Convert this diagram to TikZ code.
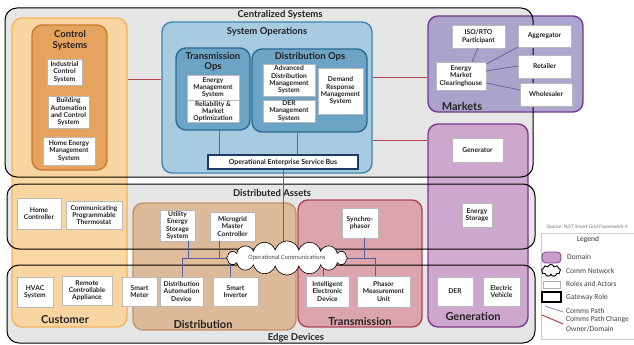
\documentclass[tikz,border=0pt]{standalone}
\usepackage{fontspec}
\setmainfont{Lato}
\newfontfamily\legfont{Carlito}
\usetikzlibrary{shapes.symbols}
\definecolor{bandfill}{HTML}{E6E6E6}
\definecolor{custfill}{HTML}{FBD49A}
\definecolor{custdraw}{HTML}{F2B35C}
\definecolor{ctrlfill}{HTML}{E6A35E}
\definecolor{ctrldraw}{HTML}{C77A30}
\definecolor{sysfill}{HTML}{A7CBE0}
\definecolor{sysdraw}{HTML}{3F86B0}
\definecolor{opsfill}{HTML}{6DA4C6}
\definecolor{opsdraw}{HTML}{2B6A93}
\definecolor{distfill}{HTML}{DDB691}
\definecolor{distdraw}{HTML}{C4926A}
\definecolor{trnfill}{HTML}{DC9DA6}
\definecolor{trndraw}{HTML}{B04557}
\definecolor{mktfill}{HTML}{A69CCB}
\definecolor{mktdraw}{HTML}{74398C}
\definecolor{genfill}{HTML}{C99DCA}
\definecolor{gendraw}{HTML}{7C3A8C}
\definecolor{redline}{HTML}{B44646}
\definecolor{blueline}{HTML}{55609E}
\definecolor{navy}{HTML}{1F3A66}
\definecolor{txt}{HTML}{222222}
\newcommand\wb[7][]{\node[wbox,#1,minimum width={(#5-#3)*1pt},minimum height={(#6-#4)*1pt}] (#2) at ({(#3+#5)/2},{(#4+#6)/2}) {#7};}
\newcommand\region[6]{\node[#6,minimum width={(#4-#2)*1pt},minimum height={(#5-#3)*1pt}] (#1) at ({(#2+#4)/2},{(#3+#5)/2}) {};}
\begin{document}
\begin{tikzpicture}[x=1pt,y=-1pt,
  wbox/.style={draw=gray!55,line width=0.4pt,fill=white,inner sep=0.5pt,align=center,text=txt,font=\bfseries\fontsize{6.7}{7.3}\selectfont},
  dom/.style={rounded corners=10pt,line width=1.4pt,inner sep=0pt},
  band/.style={rounded corners=12pt,line width=1pt,draw=black},
  btitle/.style={font=\bfseries\fontsize{9.5}{10}\selectfont,text=txt,inner sep=0pt},
  dtitle/.style={font=\bfseries\fontsize{11}{12}\selectfont,text=txt,inner sep=0pt},
  stitle/.style={font=\bfseries\fontsize{9.5}{10.5}\selectfont,text=txt,inner sep=0pt,align=center},
  redc/.style={draw=redline,line width=0.9pt},
  bluec/.style={draw=blueline,line width=0.7pt},
  legtext/.style={font=\legfont\fontsize{7.5}{8}\selectfont,text=black!75,anchor=west,inner sep=0pt}]
\useasboundingbox (0,0) rectangle (634,345);
\fill[white] (0,0) rectangle (634,345);
% band fills
\fill[bandfill,rounded corners=12pt] (5,8) rectangle (533,177);
\fill[bandfill,rounded corners=12pt] (7,184) rectangle (535,249);
\fill[bandfill,rounded corners=12pt] (7,265) rectangle (535,343);
% domain columns
\region{cust}{12}{18}{127}{327}{dom,draw=custdraw,fill=custfill,fill opacity=0.9}
\region{dist}{133}{203}{296}{330}{dom,draw=distdraw,fill=distfill,fill opacity=0.9}
\region{trn}{298}{200}{422}{327}{dom,draw=trndraw,fill=trnfill,fill opacity=0.9}
\region{gen}{428}{124}{528}{327}{dom,draw=gendraw,fill=genfill,fill opacity=0.85}
\region{mkt}{428}{16}{583}{112}{dom,draw=mktdraw,fill=mktfill,fill opacity=0.9}
% band outlines
\draw[band] (5,8) rectangle (533,177);
\draw[band] (7,184) rectangle (535,249);
\draw[band] (7,265) rectangle (535,343);
% inner domains
\region{sysops}{162}{22}{372}{173}{dom,draw=sysdraw,fill=sysfill}
\region{ctrl}{32}{25}{107}{170}{dom,draw=ctrldraw,fill=ctrlfill}
\region{tops}{176}{48}{250}{130}{dom,draw=opsdraw,fill=opsfill}
\region{dops}{252}{49}{367}{132}{dom,draw=opsdraw,fill=opsfill}
% titles
\node[btitle] (tcs) at (280,15) {Centralized Systems};
\node[btitle] (tda) at (272,193) {Distributed Assets};
\node[btitle] (ted) at (296,338) {Edge Devices};
\node[dtitle] (tcust) at (65,320) {Customer};
\node[dtitle] (tdist) at (203,324) {Distribution};
\node[dtitle] (ttrn) at (360,321) {Transmission};
\node[dtitle] (tgen) at (473,316) {Generation};
\node[dtitle] (tmkt) at (462,106) {Markets};
\node[stitle] (tsys) at (267,32) {System Operations};
\node[stitle] (tctrl) at (70,40.5) {Control\\Systems};
\node[stitle] (ttops) at (213,62) {Transmission\\Ops};
\node[stitle] (tdops) at (310,57) {Distribution Ops};
% operational communications anchor
\coordinate (occ) at (287,258);
% red connectors
\draw[redc] (cust.east |- 0,79) -- (sysops.west |- 0,79);
\draw[redc] (sysops.east |- 0,77) -- (mkt.west |- 0,77);
\draw[redc] (sysops.east |- 0,140) -- (gen.west |- 0,140);
% white boxes
\wb{ics}{47}{59}{82}{85}{Industrial\\Control\\System}
\wb{bacs}{48}{96}{89}{128}{Building\\Automation\\and Control\\System}
\wb{hems}{43}{137}{95}{165}{Home Energy\\Management\\System}
\wb{ems}{187}{75}{239}{100}{Energy\\Management\\System}
\wb{rmo}{187}{101}{239}{122}{Reliability \&\\Market\\Optimization}
\wb{adms}{263}{64}{315}{96}{Advanced\\Distribution\\Management\\System}
\wb{derms}{263}{100}{315}{122}{DER\\Management\\System}
\wb{drms}{318}{68}{363}{114}{Demand\\Response\\Management\\System}
\wb[draw=navy,line width=1.6pt,font=\bfseries\fontsize{7}{8}\selectfont]{oesb}{208}{155}{358}{169}{Operational Enterprise Service Bus}
\wb{iso}{452}{25}{505}{48}{ISO/RTO\\Participant}
\wb{agg}{518}{25}{571}{47}{Aggregator}
\wb{ret}{518}{55}{571}{78}{Retailer}
\wb{whl}{520}{83}{572}{106}{Wholesaler}
\wb{emc}{436}{62}{486}{90}{Energy\\Market\\Clearinghouse}
\wb{gentr}{452}{138}{503}{162}{Generator}
\wb{es}{462}{203}{492}{227}{Energy\\Storage}
\wb{der}{437}{277}{473}{306}{DER}
\wb{ev}{483}{277}{520}{306}{Electric\\Vehicle}
\wb{hc}{17}{198}{61}{229}{Home\\Controller}
\wb{cpt}{66}{201}{122}{229}{Communicating\\Programmable\\Thermostat}
\wb{hvac}{17}{277}{53}{307}{HVAC\\System}
\wb{rca}{62}{276}{112}{305}{Remote\\Controllable\\Appliance}
\wb{sm}{122}{277}{157}{306}{Smart\\Meter}
\wb{uess}{160}{210}{195}{241}{Utility\\Energy\\Storage\\System}
\wb{mmc}{210}{212}{255}{241}{Microgrid\\Master\\Controller}
\wb{dad}{160}{277}{203}{306}{Distribution\\Automation\\Device}
\wb{si}{213}{277}{258}{306}{Smart\\Inverter}
\wb{syn}{342}{208}{378}{238}{Synchro-\\phasor}
\wb{ied}{306}{276}{349}{307}{Intelligent\\Electronic\\Device}
\wb{pmu}{357}{276}{410}{307}{Phasor\\Measurement\\Unit}
% blue connectors
\draw[bluec] (219,0 |- tops.south) -- (219,0 |- oesb.north);
\draw[bluec] (297,0 |- dops.south) -- (297,0 |- oesb.north);
\draw[bluec] (472,0 |- emc.north) -- (478,0 |- iso.south);
\draw[bluec] (emc.east |- 0,64) -- (agg.south west);
\draw[bluec] (emc.east |- 0,71) -- (ret.west |- 0,66);
\draw[bluec] (emc.east |- 0,83) -- (whl.west |- 0,90);
\draw[bluec] (182,0 |- dad.north) |- (occ);
\draw[bluec] (188,0 |- uess.south) -- (188,0 |- occ);
\draw[bluec] (219,0 |- mmc.south) -- (219,0 |- occ);
\draw[bluec] (230,0 |- si.north) -- (230,0 |- occ);
\draw[bluec] (323,0 |- ied.north) |- (occ);
\draw[bluec] (375,0 |- pmu.north) |- (occ);
\draw[bluec] (364,0 |- syn.south) -- (364,0 |- occ);
\draw[redc] (oesb.south) -- (oesb.south |- occ);
% cloud
\node[cloud,cloud puffs=16,aspect=6,draw=black,line width=0.6pt,fill=white,minimum width=121pt,minimum height=20pt,inner sep=0pt,text=black!70,font=\legfont\fontsize{6.5}{7}\selectfont] (opcomm) at (occ) {Operational Communications};
% legend
\node[font=\legfont\itshape\fontsize{5.3}{6}\selectfont,text=black!55,inner sep=0pt] (src) at (587,227) {Source: NIST Smart Grid Framework 4};
\region{legbox}{541}{233}{634}{339}{draw=gray!40,fill=white,line width=0.5pt,inner sep=0pt}
\node[font=\legfont\fontsize{7.5}{8}\selectfont,text=black!80,inner sep=0pt] (legt) at (588,240) {Legend};
\region{ldom}{542}{252}{561}{263}{rounded corners=4pt,draw=gendraw,fill=genfill,line width=0.8pt}
\node[cloud,cloud puffs=9,draw=black,line width=0.9pt,minimum width=19pt,minimum height=12pt,inner sep=0pt] (lcloud) at (551,270.5) {};
\region{lrole}{543}{281}{560}{288}{draw=gray!60,fill=white,line width=0.6pt}
\region{lgate}{542}{292}{561}{302}{draw=black,fill=white,line width=1.4pt}
\coordinate (lb1) at (545,306);
\coordinate (lb2) at (563,312);
\coordinate (lr1) at (542,315);
\coordinate (lr2) at (563,324);
\draw[draw=blueline!70,line width=0.8pt] (lb1) -- (lb2);
\draw[draw=redline,line width=1pt] (lr1) -- (lr2);
\node[legtext] (l1) at (567,257) {Domain};
\node[legtext] (l2) at (566,271) {Comm Network};
\node[legtext] (l3) at (566,284) {Roles and Actors};
\node[legtext] (l4) at (566,297) {Gateway Role};
\node[legtext] (l5) at (566,311) {Comms Path};
\node[legtext] (l6) at (566,320) {Comms Path Change};
\node[legtext] (l7) at (566,329) {Owner/Domain};
\end{tikzpicture}
\end{document}
